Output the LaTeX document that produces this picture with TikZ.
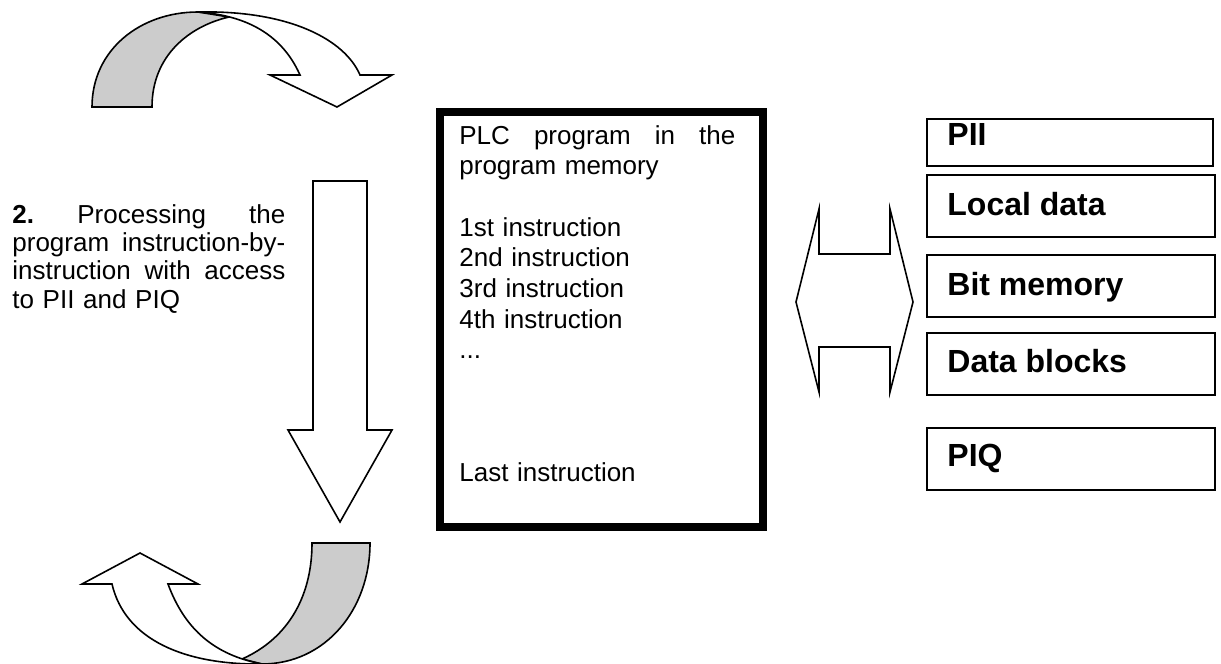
\documentclass[tikz,border=0pt]{standalone}
\usepackage{fontspec}
\setmainfont{Liberation Sans}
\usetikzlibrary{positioning}

\begin{document}
\begin{tikzpicture}[x=0.5pt, y=-0.5pt,
    blockarrow/.style={draw=black, line width=0.8pt, fill=white, line join=miter},
    backside/.style={draw=black, line width=0.8pt, fill=black!20, line join=miter},
    membox/.style={draw, rectangle, line width=0.8pt, minimum width=144pt, inner sep=0pt, anchor=north west},
    memtext/.style={anchor=base west, inner sep=0pt, font=\bfseries\fontsize{16}{19}\selectfont}]
    \useasboundingbox (0,0) rectangle (1221,664);

    % curved arrow on top
    \draw[backside] (92,107) .. controls (92,50) and (140,12) .. (198,12)
      -- (229,17) .. controls (190,26) and (152,55) .. (152,107) -- cycle;
    \draw[blockarrow] (198,12) .. controls (290,10) and (345,40) .. (360,75)
      -- (392,75) -- (337,107) -- (270,75) -- (300,75)
      .. controls (280,30) and (240,15) .. (198,12) -- cycle;

    % straight arrow down
    \draw[blockarrow] (313,181) -- (367,181) -- (367,430) -- (392,430)
      -- (340,522) -- (288,430) -- (313,430) -- cycle;

    % curved arrow at the bottom
    \draw[backside] (370,543) .. controls (370,610) and (325,664) .. (262,664)
      -- (242,659) .. controls (285,640) and (312,600) .. (312,543) -- cycle;
    \draw[blockarrow] (112,584) .. controls (125,640) and (185,665) .. (262,664)
      .. controls (215,655) and (185,630) .. (168,584)
      -- (198,584) -- (140,553) -- (82,584) -- cycle;

    \node [anchor=base west, inner sep=0pt, text width=136.5pt, align=left,
      font=\fontsize{13}{14.2}\selectfont] (step2) at (12,223)
      {\makebox[136.5pt][l]{\textbf{2.}\hfill Processing\hfill the}\\
       \makebox[136.5pt][l]{program\hfill instruction-by-}\\
       \makebox[136.5pt][l]{instruction\hfill with\hfill access}\\
       to PII and PIQ};

    % program memory
    \node [draw, line width=4.2pt, rectangle, minimum width=161.5pt, minimum height=207.75pt,
      inner sep=0pt, anchor=north west] (prog) at (436,107.5) {};
    \node [anchor=base west, inner sep=0pt, text width=138pt, align=left,
      font=\fontsize{13}{15.35}\selectfont] (progtext) at (459,144)
      {\makebox[138pt][l]{PLC\hfill program\hfill in\hfill the}\\
       program memory\\[15.35pt]
       1st instruction\\
       2nd instruction\\
       3rd instruction\\
       4th instruction\\
       ...\\[46pt]
       Last instruction};

    % double arrow
    \draw[blockarrow] (796,302) -- (819,209) -- (819,254) -- (890,254) -- (890,209)
      -- (913,302) -- (890,392) -- (890,347) -- (819,347) -- (819,392) -- cycle;

    % memory areas
    \node [membox, minimum width=143pt, minimum height=23.5pt] (pii) at (926,118) {};
    \node [memtext] (piitext) at (947,145) {PII};
    \node [membox, minimum height=31pt] (local) at (926,174) {};
    \node [memtext] (localtext) at (947,215) {Local data};
    \node [membox, minimum height=31pt] (bitmem) at (926,254) {};
    \node [memtext] (bitmemtext) at (947,295) {Bit memory};
    \node [membox, minimum height=31pt] (db) at (926,332) {};
    \node [memtext] (dbtext) at (947,372) {Data blocks};
    \node [membox, minimum height=31pt] (piq) at (926,427) {};
    \node [memtext] (piqtext) at (947,466) {PIQ};
\end{tikzpicture}
\end{document}
